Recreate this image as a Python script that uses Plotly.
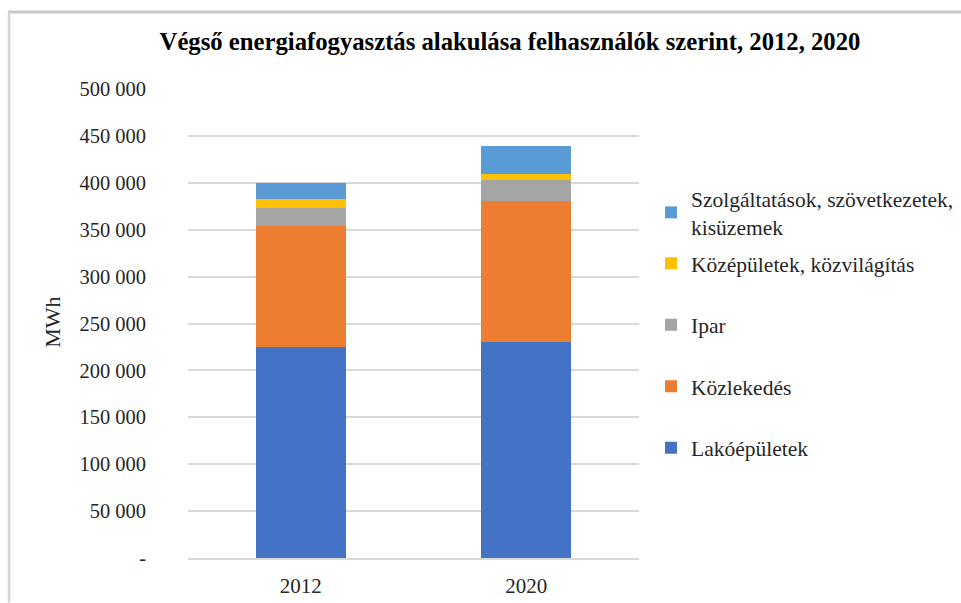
import plotly.graph_objects as go

years = ["2012", "2020"]
series_names = [
    "Lakóépületek",
    "Közlekedés",
    "Ipar",
    "Középületek, közvilágítás",
    "Szolgáltatások, szövetkezetek,<br>kisüzemek",
]
lakoepuletek = [224500, 230400]
kozlekedes = [129000, 149700]
ipar = [19500, 23100]
kozepuletek = [9600, 6400]
szolgaltatasok = [17000, 30100]
colors = ["#4472C4", "#ED7D31", "#A5A5A5", "#FFC000", "#5B9BD5"]

tick_vals = [0, 50000, 100000, 150000, 200000, 250000, 300000, 350000, 400000, 450000, 500000]
tick_text = ["-", "50 000", "100 000", "150 000", "200 000", "250 000", "300 000",
             "350 000", "400 000", "450 000", "500 000"]

FONT = "Liberation Serif"
values = [lakoepuletek, kozlekedes, ipar, kozepuletek, szolgaltatasok]

fig = go.Figure()
n = len(series_names)
for i, (name, vals, col) in enumerate(zip(series_names, values, colors)):
    fig.add_trace(go.Bar(
        x=years, y=vals, name=name, marker=dict(color=col, line=dict(width=0)),
        legendgroup="g%d" % i, legendrank=n - i, showlegend=True,
        legend="legend3" if i == n - 1 else "legend2",
    ))

W, H = 961, 603
L, R, T, B = 188, 639, 89, 558.5

def px(xp):
    return (xp - L) / (R - L)

def py(yp):
    return (B - yp) / (B - T)

legend_font = dict(family=FONT, size=21.5, color="#262626")

fig.update_layout(
    width=W, height=H, showlegend=True,
    barmode="stack", bargap=0.6,
    margin=dict(l=L, r=W - R, t=T, b=H - B, autoexpand=False),
    paper_bgcolor="white", plot_bgcolor="white",
    font=dict(family=FONT, size=20, color="#262626"),
    title=dict(
        text="<b>Végső energiafogyasztás alakulása felhasználók szerint, 2012, 2020</b>",
        x=510 / W, xanchor="center", xref="container",
        y=1 - 41 / H, yanchor="middle",
        font=dict(family=FONT, size=24.7, color="black"),
    ),
    xaxis=dict(
        showline=True, linecolor="#d9d9d9", linewidth=1.5,
        ticks="", tickfont=dict(size=21, color="#262626"),
        ticklabelstandoff=8,
    ),
    yaxis=dict(
        range=[0, 500000], tickvals=tick_vals, ticktext=tick_text,
        showgrid=True, gridcolor="#d9d9d9", gridwidth=1.5,
        zeroline=False, ticks="", ticklabelstandoff=41,
        tickfont=dict(size=20.5, color="#262626"),
    ),
    legend3=dict(
        traceorder="grouped", visible=True,
        x=px(651), xanchor="left", y=py(178), yanchor="top",
        font=legend_font, bgcolor="rgba(0,0,0,0)",
    ),
    legend2=dict(
        traceorder="grouped", visible=True,
        x=px(651), xanchor="left", y=py(243), yanchor="top",
        font=legend_font, tracegroupgap=30.5, bgcolor="rgba(0,0,0,0)",
    ),
    annotations=[
        dict(text="MWh", textangle=-90, xref="paper", yref="paper",
             x=px(53), y=py(323), xanchor="center", yanchor="middle",
             showarrow=False, font=dict(family=FONT, size=22, color="#262626")),
    ],
    shapes=[
        dict(type="line", xref="paper", yref="paper", layer="above",
             x0=px(8), x1=px(961), y0=py(12), y1=py(12),
             line=dict(color="#c8c8c8", width=3)),
        dict(type="line", xref="paper", yref="paper", layer="above",
             x0=px(9), x1=px(9), y0=py(603), y1=py(12),
             line=dict(color="#d4d4d4", width=2.5)),
    ],
)

fig.write_html("out.html", post_script="document.body.style.margin='0';",
               config={"displayModeBar": False})
